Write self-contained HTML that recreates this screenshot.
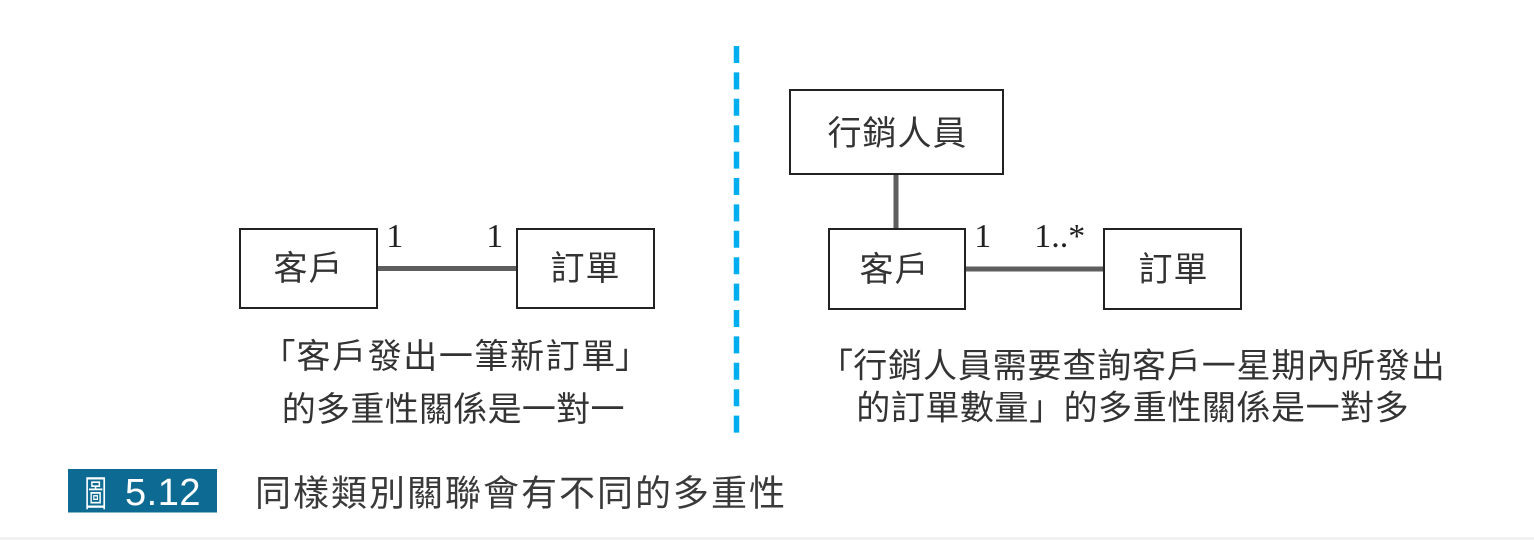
<!DOCTYPE html>
<html>
<head>
<meta charset="utf-8">
<style>
  html, body { margin:0; padding:0; background:#ffffff; }
  body { width:1534px; height:540px; overflow:hidden; }
  svg { display:block; }
  .cjk { font-family:"Liberation Sans","Noto Sans CJK TC","Noto Sans CJK SC",sans-serif; }
  .ser { font-family:"Liberation Serif",serif; }
</style>
</head>
<body>
<svg width="1534" height="540" viewBox="0 0 1534 540" xmlns="http://www.w3.org/2000/svg">
  <rect x="0" y="0" width="1534" height="540" fill="#ffffff"/>

  <!-- dashed divider -->
  <line x1="736.5" y1="46" x2="736.5" y2="433" stroke="#00aeef" stroke-width="5.5" stroke-dasharray="17 9.4"/>

  <!-- LEFT DIAGRAM -->
  <line x1="377" y1="268.5" x2="516" y2="268.5" stroke="#5e5e5e" stroke-width="5"/>
  <rect x="240" y="229" width="137" height="79" fill="#fff" stroke="#222" stroke-width="2"/>
  <rect x="517" y="229" width="137" height="79" fill="#fff" stroke="#222" stroke-width="2"/>
  <text class="cjk" x="308.5" y="280" font-size="34" fill="#333" text-anchor="middle" letter-spacing="1">客戶</text>
  <text class="cjk" x="585.5" y="280" font-size="34" fill="#333" text-anchor="middle" letter-spacing="1">訂單</text>
  <text class="ser" x="386.3" y="247" font-size="34" fill="#222">1</text>
  <text class="ser" x="486.3" y="247" font-size="34" fill="#222">1</text>

  <!-- left caption -->
  <text class="cjk" x="261.5" y="368" font-size="34" fill="#333">「</text>
  <text class="cjk" x="296.5" y="368" font-size="34" fill="#333" letter-spacing="1.6">客戶發出一筆新訂單</text>
  <text class="cjk" x="615" y="368" font-size="34" fill="#333">」</text>
  <text class="cjk" x="281.8" y="421" font-size="34" fill="#333" letter-spacing="0.3">的多重性關係是一對一</text>

  <!-- RIGHT DIAGRAM -->
  <line x1="896" y1="174" x2="896" y2="228" stroke="#5e5e5e" stroke-width="5"/>
  <line x1="965" y1="269" x2="1104" y2="269" stroke="#5e5e5e" stroke-width="5"/>
  <rect x="790" y="90" width="213" height="84" fill="#fff" stroke="#222" stroke-width="2"/>
  <rect x="829" y="229" width="136" height="80" fill="#fff" stroke="#222" stroke-width="2"/>
  <rect x="1104" y="229" width="137" height="80" fill="#fff" stroke="#222" stroke-width="2"/>
  <text class="cjk" x="897.5" y="145" font-size="34" fill="#333" text-anchor="middle" letter-spacing="1">行銷人員</text>
  <text class="cjk" x="894.5" y="281" font-size="34" fill="#333" text-anchor="middle" letter-spacing="1">客戶</text>
  <text class="cjk" x="1173.5" y="281" font-size="34" fill="#333" text-anchor="middle" letter-spacing="1">訂單</text>
  <text class="ser" x="974.3" y="247" font-size="34" fill="#222">1</text>
  <text class="ser" x="1034.3" y="247" font-size="34" fill="#222">1..*</text>

  <!-- right caption -->
  <text class="cjk" x="819" y="377.5" font-size="34" fill="#333">「</text>
  <text class="cjk" x="853.3" y="377.5" font-size="34" fill="#333" letter-spacing="0.84">行銷人員需要查詢客戶一星期內所發出</text>
  <text class="cjk" x="856.3" y="419.5" font-size="34" fill="#333" letter-spacing="0.56">的訂單數量」的多重性關係是一對多</text>

  <!-- FIGURE CAPTION -->
  <rect x="68" y="469" width="149" height="43.5" fill="#0d6b93"/>
  <text class="cjk" transform="translate(84.5,506) scale(0.62,1)" font-size="36" fill="#ffffff">圖</text>
  <text font-family="Liberation Sans, sans-serif" x="125" y="505" font-size="38" fill="#ffffff" letter-spacing="0.5">5.12</text>
  <text class="cjk" x="255" y="505.5" font-size="36" fill="#3a3a3a" letter-spacing="2">同樣類別關聯會有不同的多重性</text>

  <!-- bottom rule -->
  <rect x="0" y="537.5" width="1534" height="2" fill="#ececec"/>
</svg>
</body>
</html>
